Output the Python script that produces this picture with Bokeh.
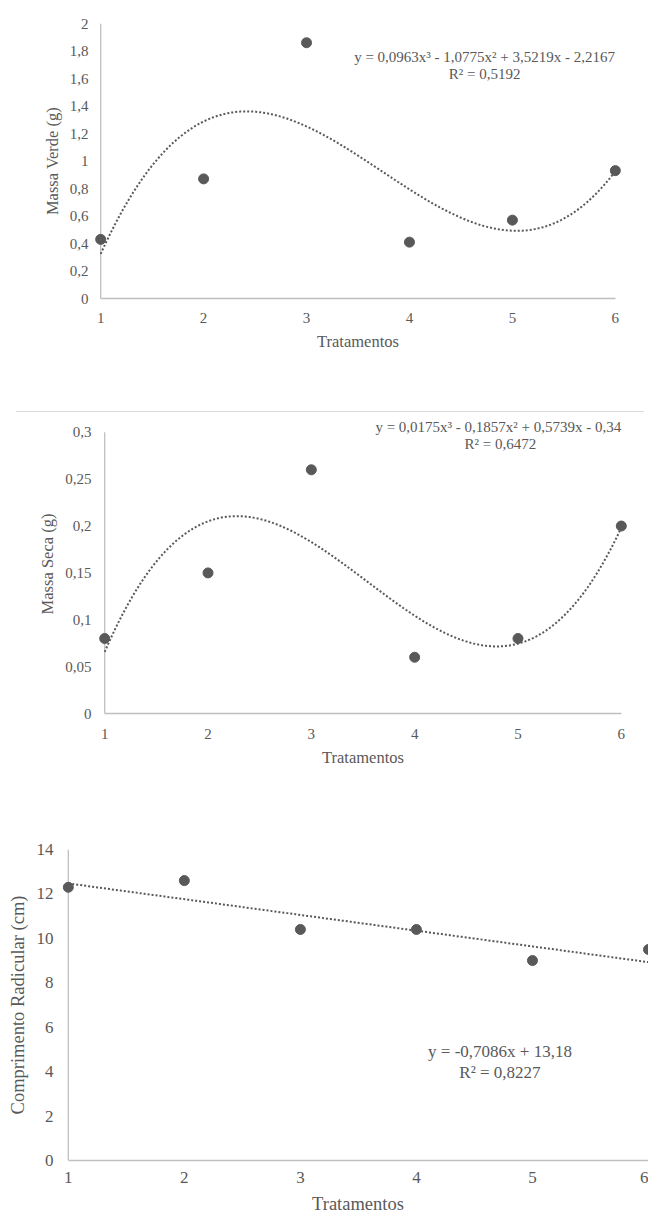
import numpy as np
from bokeh.plotting import figure
from bokeh.layouts import column
from bokeh.models import Div, Range1d, FixedTicker, CustomJSTickFormatter, Label
from bokeh.embed import file_html
from bokeh.resources import INLINE

# ---------------- data ----------------
tratamentos = [1, 2, 3, 4, 5, 6]
x_ticks = [1, 2, 3, 4, 5, 6]
x_labels = ["1", "2", "3", "4", "5", "6"]
x_title = "Tratamentos"

massa_verde = [0.43, 0.87, 1.86, 0.41, 0.57, 0.93]
mv_coef = [0.0963, -1.0775, 3.5219, -2.2167]   # cubic trend coefficients (x^3..x^0)
mv_ticks = [0, 0.2, 0.4, 0.6, 0.8, 1, 1.2, 1.4, 1.6, 1.8, 2]
mv_labels = ["0", "0,2", "0,4", "0,6", "0,8", "1", "1,2", "1,4", "1,6", "1,8", "2"]
mv_eq = "y = 0,0963x³ - 1,0775x² + 3,5219x - 2,2167"
mv_r2 = "R² = 0,5192"

massa_seca = [0.08, 0.15, 0.26, 0.06, 0.08, 0.20]
ms_coef = [0.0175, -0.1857, 0.5739, -0.34]
ms_ticks = [0, 0.05, 0.1, 0.15, 0.2, 0.25, 0.3]
ms_labels = ["0", "0,05", "0,1", "0,15", "0,2", "0,25", "0,3"]
ms_eq = "y = 0,0175x³ - 0,1857x² + 0,5739x - 0,34"
ms_r2 = "R² = 0,6472"

comprimento = [12.3, 12.6, 10.4, 10.4, 9.0, 9.5]
cr_coef = [-0.7086, 13.18]
cr_ticks = [0, 2, 4, 6, 8, 10, 12, 14]
cr_labels = ["0", "2", "4", "6", "8", "10", "12", "14"]
cr_eq = "y = -0,7086x + 13,18"
cr_r2 = "R² = 0,8227"

FONT = "Liberation Serif"
TXT = "#595959"
AX = "#bfbfbf"
DOT = "#595959"

FMT_CODE = """
let best = 0; let d = Infinity;
for (let i = 0; i < tv.length; i++) {
  const e = Math.abs(tv[i] - tick);
  if (e < d) { d = e; best = i; }
}
return tl[best];
"""


def make_panel(width, height, mb, xr, yr, ybounds, yt, yl, ylabel, ys, coef,
               eq, r2, eqpos, r2pos, tick_fs, title_fs, eq_fs,
               xstand, xlab_stand, ystand, ylab_stand, with_xtitle=True):
    p = figure(width=width, height=height, output_backend="svg", toolbar_location=None,
               title=None, x_range=Range1d(*xr), y_range=Range1d(*yr),
               min_border_left=mb[0], min_border_right=mb[1],
               min_border_top=mb[2], min_border_bottom=mb[3])
    p.frame_align = False
    p.outline_line_color = None
    p.grid.visible = False
    p.background_fill_color = "white"
    p.border_fill_color = "white"

    for ax in (p.xaxis[0], p.yaxis[0]):
        ax.axis_line_color = AX
        ax.axis_line_width = 1.3
        ax.major_tick_line_color = None
        ax.minor_tick_line_color = None
        ax.major_tick_out = 0
        ax.major_tick_in = 0
        ax.major_label_text_font = FONT
        ax.major_label_text_color = TXT
        ax.major_label_text_font_size = tick_fs
        ax.axis_label_text_font = FONT
        ax.axis_label_text_color = TXT
        ax.axis_label_text_font_size = title_fs
        ax.axis_label_text_font_style = "normal"

    p.xaxis.ticker = FixedTicker(ticks=x_ticks)
    p.xaxis.formatter = CustomJSTickFormatter(args=dict(tv=x_ticks, tl=x_labels), code=FMT_CODE)
    p.xaxis.bounds = (1, 6)
    p.xaxis.major_label_standoff = xstand
    if with_xtitle:
        p.xaxis.axis_label = x_title
        p.xaxis.axis_label_standoff = xlab_stand

    p.yaxis.ticker = FixedTicker(ticks=yt)
    p.yaxis.formatter = CustomJSTickFormatter(args=dict(tv=yt, tl=yl), code=FMT_CODE)
    p.yaxis.axis_line_color = None
    p.yaxis.axis_label = ylabel
    p.yaxis.major_label_standoff = ystand
    p.yaxis.axis_label_standoff = ylab_stand
    # y axis line drawn at x = 1 (first treatment)
    p.segment(x0=[tratamentos[0]], y0=[ybounds[0]], x1=[tratamentos[0]], y1=[ybounds[1]],
              line_color=AX, line_width=1.3)

    xs = np.linspace(1, 6, 200)
    p.line(xs, np.polyval(coef, xs), line_color="#595959", line_width=2, line_dash="2 2")

    p.scatter(tratamentos, ys, size=10, fill_color=DOT, line_color=DOT)

    p.add_layout(Label(x=eqpos[0], y=eqpos[1], text=eq, text_font=FONT, text_font_size=eq_fs,
                       text_color=TXT, text_align="center", text_baseline="middle"))
    p.add_layout(Label(x=r2pos[0], y=r2pos[1], text=r2, text_font=FONT, text_font_size=eq_fs,
                       text_color=TXT, text_align="center", text_baseline="middle"))
    return p


p1 = make_panel(648, 411, (94, 27, 23, 113), (0.94, 6.06), (0, 2), (0, 2),
                mv_ticks, mv_labels, "Massa Verde (g)", massa_verde, mv_coef,
                mv_eq, mv_r2, (4.73, 1.758), (4.73, 1.635),
                "15px", "16.5px", "15px", 14, 6, 6, 5)

divider = Div(text="", width=628, height=1, margin=(0, 0, 0, 16),
              styles={"background-color": "#d9d9d9"})

p2 = make_panel(648, 418, (98, 21, 2, 117), (0.94, 6.06), (0, 0.319), (0, 0.3),
                ms_ticks, ms_labels, "Massa Seca (g)", massa_seca, ms_coef,
                ms_eq, ms_r2, (4.81, 0.306), (4.83, 0.288),
                "15px", "16.5px", "15px", 15, 6, 7, 5)

p3 = make_panel(648, 362, (62, 0, 19, 32), (0.95, 6), (0, 14), (0, 14),
                cr_ticks, cr_labels, "Comprimento Radicular (cm)", comprimento, cr_coef,
                cr_eq, cr_r2, (4.72, 4.91), (4.72, 3.98),
                "17px", "18.5px", "17px", 11, 0, 9, 6, with_xtitle=False)

p3_xtitle = Div(text=x_title, width=200, height=21, margin=(0, 0, 0, 258),
                styles={"font-family": FONT, "font-size": "18.5px", "color": TXT,
                        "line-height": "25px", "text-align": "center"})

layout = column(p1, divider, p2, p3, p3_xtitle, spacing=0)

open("out.html", "w").write(file_html(layout, INLINE))
